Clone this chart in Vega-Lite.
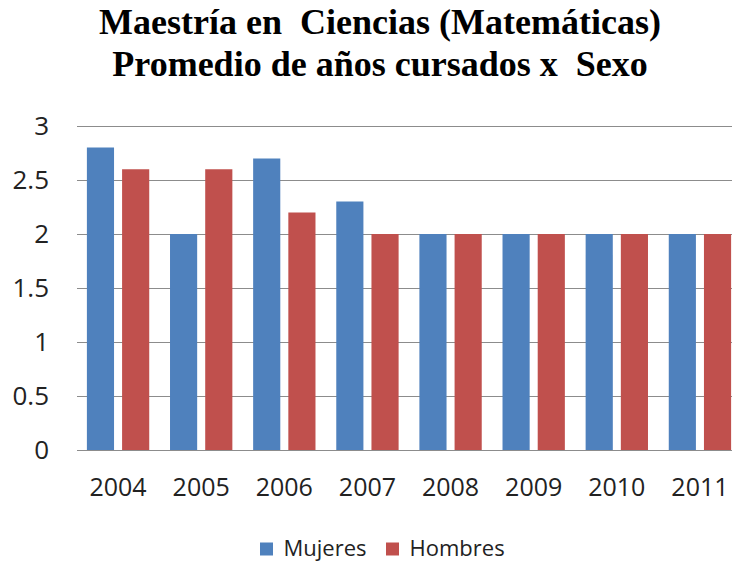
{
  "$schema": "https://vega.github.io/schema/vega-lite/v6.json",
  "width": 665,
  "height": 324,
  "autosize": "none",
  "padding": {"left": 76.5, "top": 126, "right": 0, "bottom": 115},
  "background": "white",
  "title": {
    "text": ["Maestría en \u00a0Ciencias (Matemáticas)", "Promedio de años cursados x \u00a0Sexo"],
    "font": "Liberation Serif",
    "fontSize": 36,
    "fontWeight": "bold",
    "color": "black",
    "lineHeight": 42,
    "anchor": "middle",
    "dx": -29,
    "offset": 29
  },
  "data": {
    "values": [
      {"year": "2004", "sexo": "Mujeres", "v": 2.8},
      {"year": "2004", "sexo": "Hombres", "v": 2.6},
      {"year": "2005", "sexo": "Mujeres", "v": 2.0},
      {"year": "2005", "sexo": "Hombres", "v": 2.6},
      {"year": "2006", "sexo": "Mujeres", "v": 2.7},
      {"year": "2006", "sexo": "Hombres", "v": 2.2},
      {"year": "2007", "sexo": "Mujeres", "v": 2.3},
      {"year": "2007", "sexo": "Hombres", "v": 2.0},
      {"year": "2008", "sexo": "Mujeres", "v": 2.0},
      {"year": "2008", "sexo": "Hombres", "v": 2.0},
      {"year": "2009", "sexo": "Mujeres", "v": 2.0},
      {"year": "2009", "sexo": "Hombres", "v": 2.0},
      {"year": "2010", "sexo": "Mujeres", "v": 2.0},
      {"year": "2010", "sexo": "Hombres", "v": 2.0},
      {"year": "2011", "sexo": "Mujeres", "v": 2.0},
      {"year": "2011", "sexo": "Hombres", "v": 2.0}
    ]
  },
  "mark": {"type": "bar"},
  "encoding": {
    "x": {
      "field": "year",
      "type": "nominal",
      "scale": {"paddingInner": 0.25, "paddingOuter": 0.125},
      "axis": {
        "title": null,
        "labelAngle": 0,
        "labelFont": "Open Sans",
        "labelFontSize": 25,
        "labelColor": "#222",
        "labelPadding": 25,
        "ticks": false,
        "domain": false
      }
    },
    "xOffset": {
      "field": "sexo",
      "type": "nominal",
      "sort": ["Mujeres", "Hombres"],
      "scale": {"paddingInner": 0.2286, "paddingOuter": 0}
    },
    "y": {
      "field": "v",
      "type": "quantitative",
      "scale": {"domain": [0, 3]},
      "axis": {
        "title": null,
        "values": [0, 0.5, 1, 1.5, 2, 2.5, 3],
        "format": "~g",
        "labelFont": "Open Sans",
        "labelFontSize": 26,
        "labelColor": "#222",
        "labelPadding": 28,
        "ticks": false,
        "domain": false,
        "gridColor": "#8c8c8c",
        "gridWidth": 1.2,
        "gridOpacity": 1
      }
    },
    "color": {
      "field": "sexo",
      "type": "nominal",
      "sort": ["Mujeres", "Hombres"],
      "scale": {"domain": ["Mujeres", "Hombres"], "range": ["#4F81BD", "#C0504D"]},
      "legend": {
        "title": null,
        "orient": "none",
        "direction": "horizontal",
        "legendX": 179,
        "legendY": 412,
        "symbolType": "square",
        "symbolSize": 169,
        "symbolStrokeWidth": 0,
        "labelFont": "Open Sans",
        "labelFontSize": 22,
        "labelColor": "#222",
        "columnPadding": 14,
        "labelOffset": 6
      }
    }
  },
  "config": {"view": {"stroke": null}}
}
